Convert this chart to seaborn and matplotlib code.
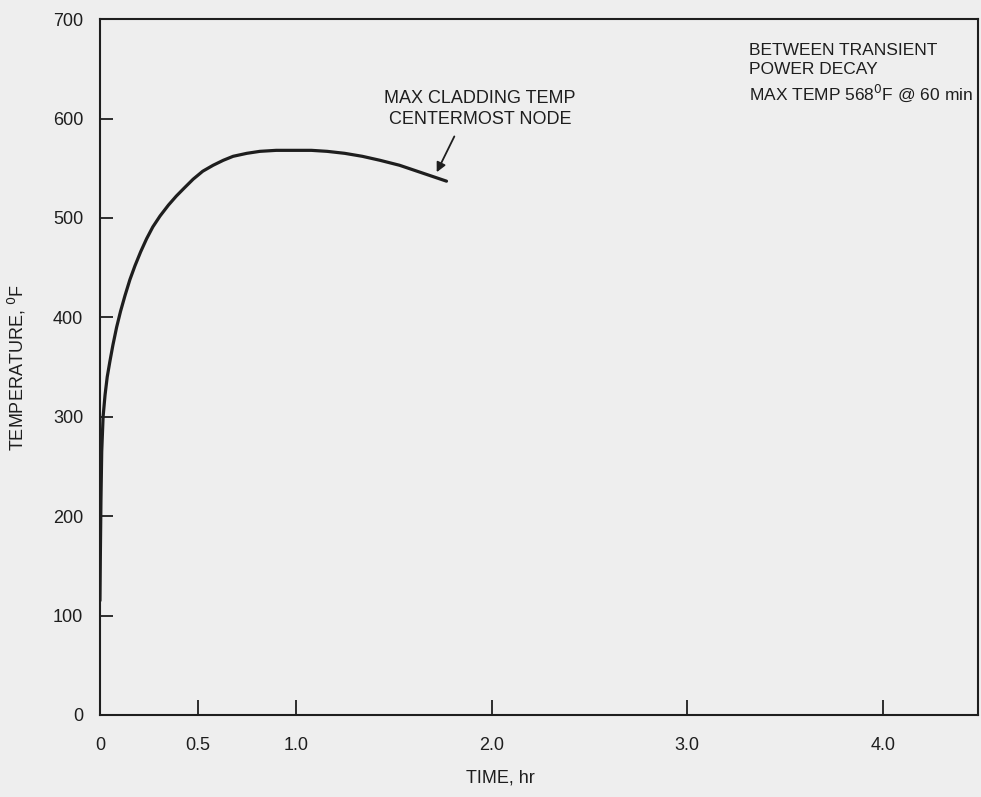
import numpy as np
import pandas as pd
import matplotlib
matplotlib.use("Agg")
import matplotlib.pyplot as plt
import seaborn as sns

# curve: time (hr) vs max cladding temp (F)
time_hr = [0.0, 0.002, 0.005, 0.009, 0.016, 0.026, 0.037, 0.051, 0.066, 0.085,
           0.105, 0.128, 0.153, 0.179, 0.208, 0.238, 0.27, 0.307, 0.35, 0.39,
           0.43, 0.476, 0.525, 0.578, 0.63, 0.68, 0.75, 0.817, 0.90, 1.00,
           1.08, 1.16, 1.25, 1.34, 1.43, 1.53, 1.65, 1.77]
temp_f = [115, 160, 215, 265, 300, 322, 340, 356, 372, 390,
          406, 422, 438, 452, 466, 479, 491, 502, 513, 522,
          530, 539, 547, 553, 558, 562, 565, 567, 568, 568,
          568, 567, 565, 562, 558, 553, 545, 537]

x_ticks = [0, 0.5, 1.0, 2.0, 3.0, 4.0]
x_tick_labels = ["0", "0.5", "1.0", "2.0", "3.0", "4.0"]
y_ticks = [0, 100, 200, 300, 400, 500, 600, 700]

df = pd.DataFrame({"time": time_hr, "temp": temp_f})

sns.set_style("ticks")
plt.rcParams['font.family'] = ['Liberation Sans', 'DejaVu Sans']
ink = "#1e1e1e"
bg = "#eeeeee"

fig = plt.figure(figsize=(9.81, 7.97), dpi=100, facecolor=bg)
ax = fig.add_axes([0.1019, 0.1029, 0.8951, 0.8731])
ax.set_facecolor(bg)

sns.lineplot(data=df, x="time", y="temp", ax=ax, color=ink, linewidth=2.3,
             estimator=None, sort=False)

ax.set_xlim(0, 4.485)
ax.set_ylim(0, 700)
ax.set_xticks(x_ticks)
ax.set_xticklabels(x_tick_labels)
ax.set_yticks(y_ticks)
ax.tick_params(axis="both", direction="in", length=9, width=1.3, colors=ink,
               labelsize=13, pad=12)
ax.tick_params(axis="x", length=11, pad=16)
for side in ["left", "right", "top", "bottom"]:
    ax.spines[side].set_visible(True)
    ax.spines[side].set_linewidth(1.5)
    ax.spines[side].set_color(ink)

ax.set_xlabel("TIME, hr", fontsize=13, color=ink)
ax.xaxis.set_label_coords(0.456, -0.079)
ax.set_ylabel("TEMPERATURE, $^{0}$F", fontsize=13, color=ink)
ax.yaxis.set_label_coords(-0.082, 0.5)

ax.text(1.94, 610, "MAX CLADDING TEMP\nCENTERMOST NODE", ha="center", va="center",
        fontsize=13, color=ink, linespacing=1.3)
ax.annotate("", xy=(1.72, 546), xytext=(1.81, 582),
            arrowprops=dict(arrowstyle="-|>", color=ink, lw=1.3,
                            shrinkA=0, shrinkB=0, mutation_scale=14))

ax.text(0.739, 0.966, "BETWEEN TRANSIENT\nPOWER DECAY\nMAX TEMP 568$^{0}$F @ 60 min",
        transform=ax.transAxes, ha="left", va="top", fontsize=12.5, color=ink,
        linespacing=1.35)

fig.savefig("out.png", dpi=100, facecolor=bg)
